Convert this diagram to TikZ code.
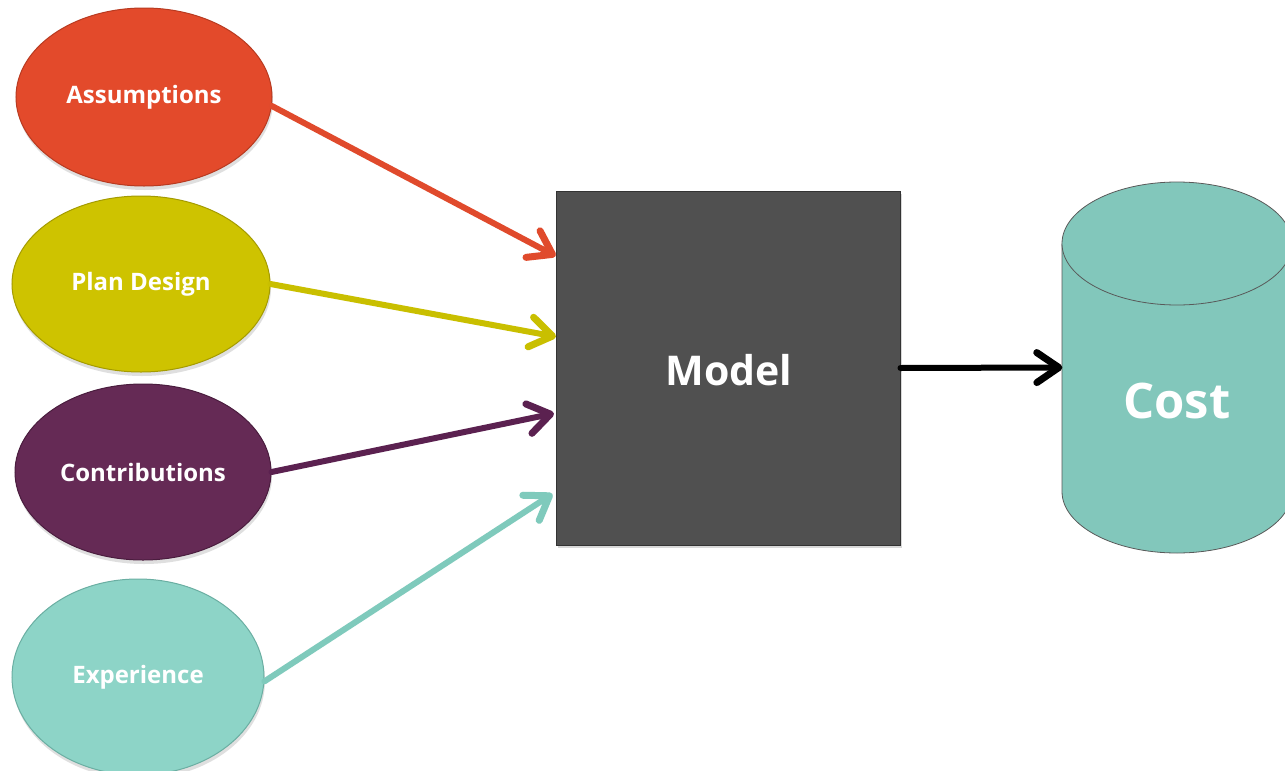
\documentclass[tikz,border=0pt]{standalone}
\usepackage{fontspec}
\setmainfont{Open Sans}
\usetikzlibrary{shapes.geometric,shadows,calc,decorations.markings}
\definecolor{cA}{HTML}{E34A2B}
\definecolor{cAd}{HTML}{B83A20}
\definecolor{cP}{HTML}{CEC300}
\definecolor{cPd}{HTML}{A49B00}
\definecolor{cC}{HTML}{652A55}
\definecolor{cCd}{HTML}{4A1D3E}
\definecolor{cE}{HTML}{8DD4C7}
\definecolor{cEd}{HTML}{6AAEA2}
\definecolor{aA}{HTML}{E04A2C}
\definecolor{aP}{HTML}{C9BF00}
\definecolor{aC}{HTML}{5B2150}
\definecolor{aE}{HTML}{7FCABC}
\definecolor{cM}{HTML}{505050}
\definecolor{cCyl}{HTML}{82C7BB}
\begin{document}
\begin{tikzpicture}[x=1pt,y=-1pt,
  inbub/.style={ellipse, inner sep=0pt, line width=1pt, text=white,
    font=\fontsize{24}{28}\selectfont\bfseries,
    drop shadow={opacity=0.25, shadow xshift=1pt, shadow yshift=-4pt}},
  conn/.style={line width=6pt, line cap=round, postaction={decorate},
    decoration={markings, mark=at position 1 with {\draw[line width=7pt, line cap=round, line join=round]
      (-22pt,15pt) -- (0pt,0pt) -- (-22pt,-15pt);}}},
]
\useasboundingbox (0,0) rectangle (1285,771);
\fill[white] (0,0) rectangle (1285,771);

\node[inbub, fill=cA, draw=cAd, minimum width=256pt, minimum height=178pt] (A) at (144,97) {Assumptions};
\node[inbub, fill=cP, draw=cPd, minimum width=258pt, minimum height=176pt] (P) at (141,284) {Plan Design};
\node[inbub, fill=cC, draw=cCd, minimum width=256pt, minimum height=176pt] (C) at (143,472) {Contributions};
\node[inbub, fill=cE, draw=cEd, minimum width=252pt, minimum height=196pt] (E) at (138,677) {Experience};

\node[rectangle, fill=cM, draw=black!80, line width=1pt, minimum width=344pt, minimum height=354pt,
  drop shadow={opacity=0.3, shadow xshift=2pt, shadow yshift=-3pt}] (M) at (728,368) {};
\node[text=white, font=\fontsize{41}{46}\selectfont\bfseries] (Mt) at (729,370) {Model};

% cylinder
\fill[cCyl] (1062,243.5) rectangle (1292,491.5);
\fill[cCyl] (1177,491.5) ellipse [x radius=115, y radius=61.5];
\draw[black!65, line width=0.8pt] (1062,243.5) -- (1062,491.5) arc[start angle=180, end angle=0, x radius=115, y radius=61.5] -- (1292,243.5);
\draw[black!65, line width=0.8pt, fill=cCyl] (1177,243.5) ellipse [x radius=115, y radius=61.5];
\node[minimum width=230pt, minimum height=248pt, inner sep=0pt] (Cost) at (1177,367.5) {};
\node[text=white, font=\fontsize{49}{55}\selectfont\bfseries] (Ct) at (1177,401) {Cost};

\draw[conn, aA] (A.-4) -- ($(M.north west)!0.18!(M.south west)+(-3,0)$);
\draw[conn, aP] (P.east) -- ($(M.north west)!0.41!(M.south west)+(-3,0)$);
\draw[conn, aC] (C.east) -- ($(M.north west)!0.63!(M.south west)+(-5,0)$);
\draw[conn, aE] (E.-2) -- ($(M.north west)!0.86!(M.south west)+(-6,0)$);
\draw[conn, black] (M.east) -- ($(Cost.west)+(-3,0)$);
\end{tikzpicture}
\end{document}
